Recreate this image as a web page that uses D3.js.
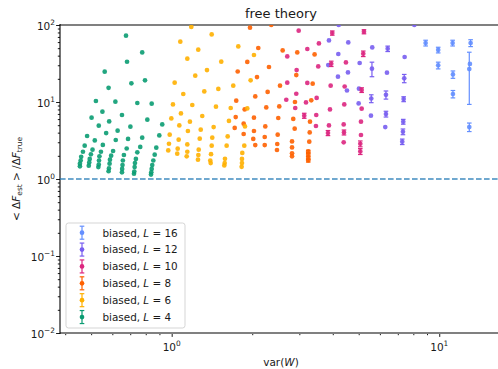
<!DOCTYPE html>
<html>
<head>
<meta charset="utf-8">
<script src="https://cdn.jsdelivr.net/npm/d3@7"></script>
<style>
  body { margin: 0; background: #fff; }
  svg { display: block; }
  text { font-family: "DejaVu Sans", sans-serif; fill: #1a1a1a; }
</style>
</head>
<body>
<svg id="chart" width="498" height="369"></svg>
<script>
// Each point: [var(W), <dF_est>/dF_true, optional y error]
const biasedL16 = [
  [8.894, 58.4, 5], [9.91, 47.4, 4], [9.91, 29.9, 3], [11.22, 58.4, 5], [11.25, 22.8, 2.5],
  [11.25, 12.7, 1.4], [13.10, 58.4, 6], [13.02, 31.2], [12.95, 26.8, 17.5], [12.95, 4.73, 0.6]
];
const biasedL12 = [
  [4.21, 100], [3.871, 63.1], [4.571, 59.4], [4.195, 42.0], [3.848, 30.2], [4.559, 24.2],
  [4.183, 21.3], [4.520, 14.1], [5.042, 32.1], [5.618, 51.2], [6.416, 49.2, 4], [5.604, 27.1, 5.8],
  [6.377, 24.0], [7.424, 38.4], [7.399, 20.3, 2.5], [5.011, 14.9], [4.998, 9.59], [5.571, 11.1, 1.3],
  [6.322, 12.4, 1.5], [7.362, 10.9, 0.8], [5.556, 6.64], [6.322, 6.98, 0.6], [6.284, 4.73],
  [7.336, 5.55, 0.4], [7.317, 4.11, 0.35], [7.273, 3.05, 0.25], [8.07, 100]
];
const biasedL10 = [
  [2.983, 84.3], [2.704, 39.1], [3.213, 48.8], [3.550, 57.7], [3.983, 78.7, 5], [2.931, 26.0],
  [3.530, 29.0], [3.948, 31.4, 2.5], [4.480, 32.7], [2.704, 17.8], [3.213, 17.7], [3.928, 16.3],
  [4.431, 15.9], [2.922, 12.8], [2.681, 10.7], [3.177, 9.88], [3.482, 11.3], [2.896, 8.36],
  [3.129, 6.64, 0.5], [3.470, 6.78], [3.905, 8.02], [4.416, 9.31], [3.461, 4.88], [3.871, 4.97],
  [4.394, 5.12], [3.838, 3.96, 0.3], [4.405, 4.03, 0.3], [4.394, 2.99], [5.232, 81.8, 5],
  [5.200, 42.4, 3.5], [5.129, 14.3, 1], [5.129, 8.18], [5.099, 5.55], [5.099, 3.73],
  [5.069, 2.87, 0.25], [5.069, 2.28, 0.2]
];
const biasedL8 = [
  [1.962, 92.2], [2.356, 100], [2.107, 50.3], [2.599, 46.8], [2.947, 44.1], [3.421, 41.5],
  [1.917, 33.1], [2.310, 28.5], [1.765, 24.9], [2.084, 21.1], [2.922, 22.4], [2.540, 16.3],
  [3.365, 17.3], [2.284, 13.5], [2.053, 11.8], [2.889, 10.0], [3.324, 10.5], [1.743, 10.4],
  [1.874, 8.02], [2.257, 8.51], [2.524, 8.77], [1.735, 6.38], [2.030, 6.25], [2.502, 6.20],
  [2.847, 6.02], [3.288, 5.55], [1.720, 4.60], [1.858, 5.23], [2.238, 4.82], [2.882, 4.50],
  [1.858, 3.84], [2.030, 4.20], [2.018, 3.31], [2.227, 3.51], [2.490, 3.76], [2.817, 3.08],
  [3.280, 4.03], [3.268, 3.05], [2.053, 2.76], [2.227, 2.76], [2.481, 2.85], [2.817, 2.57],
  [2.475, 2.38], [2.817, 2.16], [2.817, 1.97], [3.239, 2.28, 0.08], [3.239, 2.07, 0.08],
  [3.239, 1.87, 0.08], [3.239, 1.74, 0.08]
];
const biasedL6 = [
  [1.184, 94.2], [1.411, 75.5], [1.077, 60.7], [1.257, 47.8], [1.774, 52.7], [1.144, 36.5],
  [1.532, 33.4], [2.030, 40.8], [1.355, 26.0], [1.225, 22.0], [1.973, 19.1], [1.026, 17.8],
  [1.494, 14.8], [1.699, 16.3], [1.324, 13.7], [1.105, 12.7], [1.011, 9.31], [1.194, 9.14],
  [1.464, 8.69], [1.662, 8.36], [1.917, 8.26], [1.083, 7.11], [1.301, 6.58], [0.997, 6.12],
  [1.637, 5.67], [1.170, 5.55], [1.068, 4.97], [1.435, 4.73], [1.879, 4.82], [1.284, 4.37],
  [1.150, 4.20], [0.983, 3.76], [1.619, 3.57], [1.062, 3.24], [1.273, 3.34], [1.418, 3.44],
  [0.977, 2.87], [1.053, 2.48], [1.144, 2.81], [1.144, 2.26], [1.262, 2.40], [1.411, 2.71],
  [1.605, 2.71], [1.868, 2.71], [0.971, 2.35], [1.049, 2.13], [1.138, 1.97], [1.403, 2.10],
  [1.254, 1.78], [1.258, 2.05], [1.394, 1.74], [1.399, 1.61], [1.582, 1.83], [1.578, 1.61],
  [1.573, 1.50], [1.836, 2.18], [1.831, 1.82], [1.831, 1.61], [1.826, 1.44]
];
const biasedL4 = [
  [0.675, 72.6], [0.776, 44.1], [0.681, 33.3], [0.562, 24.8], [0.707, 17.5], [0.795, 19.1],
  [0.581, 15.3], [0.521, 10.3], [0.616, 10.1], [0.744, 9.7], [0.842, 9.5], [0.551, 7.48],
  [0.652, 6.78], [0.502, 6.25], [0.811, 5.89], [0.584, 5.60], [0.922, 5.12], [0.534, 4.92],
  [0.701, 4.78], [0.628, 4.24], [0.569, 3.95], [0.899, 3.68], [0.483, 3.62], [0.776, 3.44],
  [0.687, 3.31], [0.618, 3.21], [0.763, 2.61], [0.876, 2.55],
  [0.473, 2.71], [0.466, 2.26], [0.459, 1.94], [0.457, 1.74], [0.454, 1.58], [0.454, 1.46],
  [0.516, 3.17], [0.506, 2.40], [0.499, 2.09], [0.494, 1.82], [0.492, 1.64], [0.490, 1.49],
  [0.553, 2.77], [0.544, 2.26], [0.537, 1.97], [0.535, 1.74], [0.534, 1.54], [0.532, 1.43],
  [0.604, 2.31], [0.594, 2.01], [0.588, 1.78], [0.586, 1.58], [0.583, 1.37], [0.581, 1.26],
  [0.679, 2.49], [0.663, 2.05], [0.657, 1.74], [0.655, 1.52], [0.653, 1.35], [0.652, 1.22],
  [0.744, 2.22], [0.735, 1.82], [0.729, 1.61], [0.727, 1.43], [0.725, 1.25], [0.723, 1.17],
  [0.864, 2.07], [0.854, 1.74], [0.846, 1.52], [0.842, 1.35], [0.839, 1.22], [0.837, 1.14]
];

const latticeSizes = ["16", "12", "10", "8", "6", "4"];
const seriesData = [biasedL16, biasedL12, biasedL10, biasedL8, biasedL6, biasedL4];
const referenceRatio = 1;

const xMajorTicks = [1, 10];
const xMajorExponents = ["0", "1"];
const xMinorTicks = [0.4, 0.5, 0.6, 0.7, 0.8, 0.9, 2, 3, 4, 5, 6, 7, 8, 9];
const yMajorTicks = [0.01, 0.1, 1, 10, 100];
const yMajorExponents = ["\u22122", "\u22121", "0", "1", "2"];
const yMinorTicks = [0.02, 0.03, 0.04, 0.05, 0.06, 0.07, 0.08, 0.09,
                     0.2, 0.3, 0.4, 0.5, 0.6, 0.7, 0.8, 0.9,
                     2, 3, 4, 5, 6, 7, 8, 9, 20, 30, 40, 50, 60, 70, 80, 90];

(function drawChart() {
  const colors = ["#648fff", "#785ef0", "#dc267f", "#fe6100", "#ffb000", "#0a9c72"];

  const svg = d3.select("#chart");
  const pL = 60, pR = 498, pT = 25, pB = 333;

  const x = d3.scaleLog().domain([0.3825, 16.58]).range([pL, pR]);
  const y = d3.scaleLog().domain([0.01, 100]).range([pB, pT]);

  svg.append("defs").append("clipPath").attr("id", "plotClip")
    .append("rect").attr("x", pL).attr("y", pT)
    .attr("width", pR - pL).attr("height", pB - pT);

  // Ticks
  const xMajorAxis = d3.axisBottom(x).tickValues(xMajorTicks).tickSize(3.9).tickFormat("");
  const xMinorAxis = d3.axisBottom(x).tickValues(xMinorTicks).tickSize(2.2).tickFormat("");
  const yMajorAxis = d3.axisLeft(y).tickValues(yMajorTicks).tickSize(3.9).tickFormat("");
  const yMinorAxis = d3.axisLeft(y).tickValues(yMinorTicks).tickSize(2.2).tickFormat("");

  function styleAxis(g) {
    g.select(".domain").remove();
    g.selectAll(".tick line").attr("stroke", "#000").attr("stroke-width", 0.9);
  }
  svg.append("g").attr("transform", `translate(0,${pB})`).call(xMajorAxis).call(styleAxis);
  svg.append("g").attr("transform", `translate(0,${pB})`).call(xMinorAxis).call(styleAxis);
  svg.append("g").attr("transform", `translate(${pL},0)`).call(yMajorAxis).call(styleAxis);
  svg.append("g").attr("transform", `translate(${pL},0)`).call(yMinorAxis).call(styleAxis);

  // Tick labels with superscript exponents
  xMajorTicks.forEach((v, i) => {
    const t = svg.append("text").attr("x", x(v)).attr("y", pB + 17.5)
      .attr("text-anchor", "middle").attr("font-size", 10.5);
    t.append("tspan").text("10");
    t.append("tspan").attr("font-size", 7.4).attr("dy", -4.6).text(xMajorExponents[i]);
  });
  yMajorTicks.forEach((v, i) => {
    const t = svg.append("text").attr("x", 55).attr("y", y(v) + 4.5)
      .attr("text-anchor", "end").attr("font-size", 10.5);
    t.append("tspan").text("10");
    t.append("tspan").attr("font-size", 7.4).attr("dy", -4.6).text(yMajorExponents[i]);
  });

  // Spines
  svg.append("line").attr("x1", pL).attr("x2", pR).attr("y1", pT).attr("y2", pT)
    .attr("stroke", "#808080").attr("stroke-width", 2);
  svg.append("line").attr("x1", pL).attr("x2", pR).attr("y1", pB).attr("y2", pB)
    .attr("stroke", "#808080").attr("stroke-width", 2);
  svg.append("line").attr("x1", pL).attr("x2", pL).attr("y1", pT - 1).attr("y2", pB + 1)
    .attr("stroke", "#000").attr("stroke-width", 1.1);

  // Reference line at ratio 1
  svg.append("line").attr("x1", pL).attr("x2", pR)
    .attr("y1", y(referenceRatio)).attr("y2", y(referenceRatio))
    .attr("stroke", "#1f77b4").attr("stroke-opacity", 0.85)
    .attr("stroke-width", 1.6).attr("stroke-dasharray", "5.6,2.4");

  // Series with error bars
  const plot = svg.append("g").attr("clip-path", "url(#plotClip)");
  const cap = 2.3;
  const r = 2.35;
  seriesData.forEach((pts, si) => {
    const g = plot.append("g").attr("fill", colors[si]).attr("stroke", colors[si]);
    pts.forEach(p => {
      const [vx, vy, err] = p;
      const cx = x(vx);
      if (err) {
        const y0 = y(vy - err), y1 = y(vy + err);
        g.append("line").attr("x1", cx).attr("x2", cx).attr("y1", y0).attr("y2", y1)
          .attr("stroke-width", 1.2);
        [y0, y1].forEach(yy => g.append("line")
          .attr("x1", cx - cap).attr("x2", cx + cap).attr("y1", yy).attr("y2", yy)
          .attr("stroke-width", 1.2));
      }
      g.append("circle").attr("cx", cx).attr("cy", y(vy)).attr("r", r)
        .attr("stroke", "none").attr("fill-opacity", 0.9);
    });
  });

  // Title and axis labels
  svg.append("text").attr("x", 281).attr("y", 18).attr("text-anchor", "middle")
    .attr("font-size", 13).text("free theory");

  const xl = svg.append("text").attr("x", 281).attr("y", 365.5)
    .attr("text-anchor", "middle").attr("font-size", 10.5);
  xl.append("tspan").text("var(");
  xl.append("tspan").attr("font-style", "italic").text("W");
  xl.append("tspan").text(")");

  const yl = svg.append("text").attr("transform", "translate(19.5,179) rotate(-90)")
    .attr("text-anchor", "middle").attr("font-size", 10.5);
  yl.append("tspan").text("< \u0394");
  yl.append("tspan").attr("font-style", "italic").text("F");
  yl.append("tspan").attr("font-size", 7.4).attr("dy", 2.4).text("est");
  yl.append("tspan").attr("dy", -2.4).text(" > /\u0394");
  yl.append("tspan").attr("font-style", "italic").text("F");
  yl.append("tspan").attr("font-size", 7.4).attr("dy", 2.4).text("true");

  // Legend
  const legend = svg.append("g");
  legend.append("rect").attr("x", 66).attr("y", 223).attr("width", 119).attr("height", 105)
    .attr("rx", 2.5).attr("fill", "#fff").attr("fill-opacity", 0.85)
    .attr("stroke", "#d0d0d0").attr("stroke-width", 0.9);
  latticeSizes.forEach((lab, i) => {
    const cy = 232.7 + i * 16.87;
    const g = legend.append("g").attr("stroke", colors[i]).attr("fill", colors[i]);
    g.append("line").attr("x1", 82).attr("x2", 82).attr("y1", cy - 6.5).attr("y2", cy + 6.5)
      .attr("stroke-width", 1.2);
    [cy - 6.5, cy + 6.5].forEach(yy => g.append("line")
      .attr("x1", 82 - cap).attr("x2", 82 + cap).attr("y1", yy).attr("y2", yy).attr("stroke-width", 1.2));
    g.append("circle").attr("cx", 82).attr("cy", cy).attr("r", r).attr("stroke", "none");
    const t = legend.append("text").attr("x", 102.5).attr("y", cy + 3.9).attr("font-size", 10.4);
    t.append("tspan").text("biased, ");
    t.append("tspan").attr("font-style", "italic").text("L");
    t.append("tspan").text(" = " + lab);
  });
})();
</script>
</body>
</html>
